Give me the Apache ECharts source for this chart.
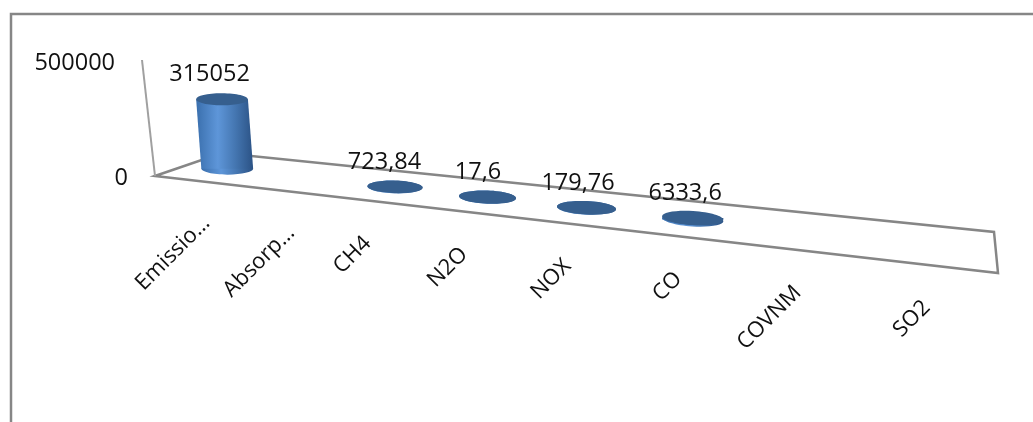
<!DOCTYPE html>
<html>
<head>
<meta charset="utf-8">
<style>
html, body { margin: 0; padding: 0; background: #fff; }
#chart { width: 1033px; height: 422px; }
</style>
<script src="https://cdn.jsdelivr.net/npm/echarts@6/dist/echarts.min.js"></script>
</head>
<body>
<div id="chart"></div>
<script>
const categories = ['Emissio…', 'Absorp…', 'CH4', 'N2O', 'NOX', 'CO', 'COVNM', 'SO2'];
const values = [315052, null, 723.84, 17.6, 179.76, 6333.6, null, null];
const yTicks = [0, 500000];

const FONT = '"Open Sans", sans-serif';
const GREY = '#868686';

// floor of the 3d box, as it sits on screen
const FRONT_LEFT = [155, 176];
const FRONT_RIGHT = [998, 273];
const BACK_LEFT = [222, 153];
const BACK_RIGHT = [994, 232];
const AXIS_TOP = [142, 60];
const PERSPECTIVE = -0.244;

function lerp(a, b, k) {
	return [a[0] + (b[0] - a[0]) * k, a[1] + (b[1] - a[1]) * k];
}

// t is the plain position along the category axis (0..1)
function foreshorten(t) {
	return t * (1 + PERSPECTIVE) / (1 + PERSPECTIVE * t);
}

function floorPoint(t, depth) {
	const s = foreshorten(t);
	return lerp(lerp(FRONT_LEFT, FRONT_RIGHT, s), lerp(BACK_LEFT, BACK_RIGHT, s), depth);
}

function axisT(api, params, index) {
	const rect = params.coordSys;
	return (api.coord([index, 0])[0] - rect.x) / rect.width;
}

function renderFloor(params, api) {
	const line = { stroke: GREY, lineWidth: 2.5, fill: null };
	return {
		type: 'group',
		children: [
			{ type: 'polygon', shape: { points: [FRONT_LEFT, FRONT_RIGHT, BACK_RIGHT, BACK_LEFT] }, style: line },
			{ type: 'line', shape: { x1: AXIS_TOP[0], y1: AXIS_TOP[1], x2: FRONT_LEFT[0], y2: FRONT_LEFT[1] }, style: { stroke: '#a0a0a0', lineWidth: 2 } }
		]
	};
}

function renderCylinder(params, api) {
	const index = api.value(0);
	const value = api.value(1);
	if (isNaN(value)) {
		return;
	}
	const t = axisT(api, params, index);
	const base = floorPoint(t, 0.5);
	// bars stand further back than the axis, so they come out a bit shorter
	const height = (api.coord([index, 0])[1] - api.coord([index, value])[1]) * 0.95;
	const top = [base[0] - height * 0.075, base[1] - height];
	const rx = 25.5 / (1 + PERSPECTIVE * t);
	const ry = rx * 0.23;
	const tilt = -0.09 * t;
	const fill = new echarts.graphic.LinearGradient(0, 0, 1, 0, [
		{ offset: 0, color: '#3a6fad' },
		{ offset: 0.38, color: '#5e96d9' },
		{ offset: 0.68, color: '#4577b2' },
		{ offset: 1, color: '#2b5285' }
	]);
	return {
		type: 'group',
		children: [
			{ type: 'ellipse', shape: { cx: base[0], cy: base[1], rx: rx, ry: ry }, originX: base[0], originY: base[1], rotation: tilt, style: { fill: fill } },
			{
				type: 'polygon',
				shape: { points: [[base[0] - rx, base[1]], [base[0] + rx, base[1]], [top[0] + rx, top[1]], [top[0] - rx, top[1]]] },
				style: { fill: fill }
			},
			{ type: 'ellipse', shape: { cx: top[0], cy: top[1], rx: rx, ry: ry }, originX: top[0], originY: top[1], rotation: tilt, style: { fill: '#365f8e' } },
			{
				type: 'text',
				x: top[0] - 13 + 8 * t,
				y: top[1] - 25,
				style: { text: String(value).replace('.', ','), fill: '#111', font: '23.5px ' + FONT, align: 'center', verticalAlign: 'middle' }
			}
		]
	};
}

function renderCategory(params, api) {
	const index = api.value(0);
	const t = axisT(api, params, index);
	const edge = floorPoint(t, 0);
	// the cut-off names sit further right than the complete ones
	const cutOff = categories[index].endsWith('…') ? 14 : 0;
	return {
		type: 'text',
		x: edge[0] - 3 + cutOff,
		y: edge[1] + 39,
		rotation: Math.PI / 4,
		style: { text: categories[index], fill: '#111', font: '22px ' + FONT, align: 'right', verticalAlign: 'middle' }
	};
}

const chart = echarts.init(document.getElementById('chart'), null, { renderer: 'canvas' });

chart.setOption({
	animation: false,
	backgroundColor: '#fff',
	grid: { left: FRONT_LEFT[0], top: AXIS_TOP[1], width: FRONT_RIGHT[0] - FRONT_LEFT[0], height: FRONT_LEFT[1] - AXIS_TOP[1] },
	xAxis: { type: 'category', data: categories, show: false },
	yAxis: {
		type: 'value',
		min: yTicks[0],
		max: yTicks[1],
		interval: yTicks[1],
		axisLine: { show: false },
		axisTick: { show: false },
		splitLine: { show: false },
		axisLabel: {
			margin: 27,
			fontFamily: FONT,
			fontSize: 23.5,
			color: '#111',
			formatter: (v) => (v === 0 ? '{low|0}' : '{high|' + v + '}'),
			rich: {
				low: { fontFamily: FONT, fontSize: 23.5, color: '#111', padding: [4, 0, 0, 0] },
				high: { fontFamily: FONT, fontSize: 23.5, color: '#111', padding: [6, 13, 0, 0] }
			}
		}
	},
	graphic: [{
		type: 'polyline',
		shape: { points: [[11, 422], [11, 14], [1033, 14]] },
		style: { stroke: GREY, lineWidth: 2.5, fill: null }
	}],
	series: [
		{ type: 'custom', name: 'floor', renderItem: renderFloor, data: [0], z: 1, silent: true },
		{
			type: 'custom',
			name: 'labels',
			renderItem: renderCategory,
			data: categories.map((c, i) => [i]),
			encode: { x: 0 },
			z: 2,
			silent: true
		},
		{
			type: 'custom',
			name: 'values',
			renderItem: renderCylinder,
			data: values.map((v, i) => [i, v]),
			encode: { x: 0, y: 1 },
			z: 3
		}
	]
});
</script>
</body>
</html>
